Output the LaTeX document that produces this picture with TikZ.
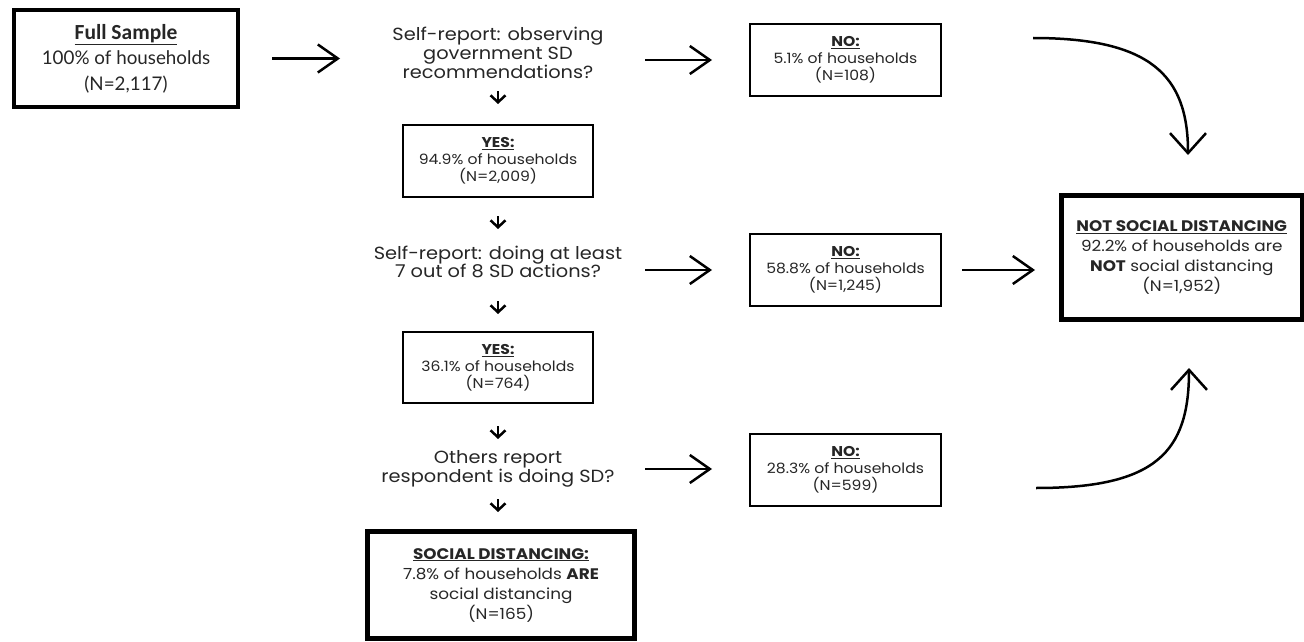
\documentclass[tikz,border=0pt]{standalone}
\usepackage{fontspec}
\setmainfont{Poppins}[FakeStretch=1.1]
\newfontfamily\fsfont{Lato}
\newfontfamily\fstitle{Carlito}
\usetikzlibrary{arrows.meta}
\begin{document}
\begin{tikzpicture}[x=1pt,y=-1pt,
  txt/.style={text=black!85, align=center, inner sep=0pt},
  qtext/.style={txt, font=\fontsize{17.6}{18.7}\selectfont},
  thinbox/.style={txt, draw=black, line width=2pt, minimum width=190pt, minimum height=72pt, font=\fontsize{14.2}{17}\selectfont},
  thickbox/.style={txt, draw=black, line width=5pt, font=\fontsize{15.3}{20}\selectfont},
  harrow/.style={line width=2.5pt, -{Straight Barb[length=20pt,width=28pt]}},
  carrow/.style={line width=2.5pt, -{Straight Barb[length=20pt,width=36pt]}},
  darrow/.style={line width=2.5pt, -{Straight Barb[length=7pt,width=15pt]}}
]
\useasboundingbox (0,0) rectangle (1304,642);

% nodes
\node[txt, draw=black, line width=4pt, minimum width=224pt, minimum height=97pt,
  font=\fsfont\fontsize{18.8}{25.5}\selectfont] (fs) at (126,58.5)
  {{\fstitle\bfseries\fontsize{21.5}{25.5}\selectfont\underline{Full Sample}}\\100\% of households\\(N=2,117)};

\node[qtext] (q1) at (498,53) {Self-report: observing\\government SD\\recommendations?};
\node[thinbox] (yes1) at (498,161) {\textbf{\underline{YES:}}\\94.9\% of households\\(N=2,009)};
\node[qtext] (q2) at (498,262) {Self-report: doing at least\\7 out of 8 SD actions?};
\node[thinbox, minimum height=71pt] (yes2) at (498,367.5) {\textbf{\underline{YES:}}\\36.1\% of households\\(N=764)};
\node[qtext] (q3) at (498,469) {Others report\\respondent is doing SD?};
\node[thickbox, minimum width=267pt, minimum height=107pt] (sd) at (501,585)
  {\textbf{\underline{SOCIAL DISTANCING:}}\\7.8\% of households \textbf{ARE}\\social distancing\\(N=165)};

\node[thinbox, minimum width=191pt] (no1) at (845.5,60) {\textbf{\underline{NO:}}\\5.1\% of households\\(N=108)};
\node[thinbox, minimum width=191pt] (no2) at (845.5,270) {\textbf{\underline{NO:}}\\58.8\% of households\\(N=1,245)};
\node[thinbox, minimum width=191pt] (no3) at (845.5,470) {\textbf{\underline{NO:}}\\28.3\% of households\\(N=599)};

\node[thickbox, minimum width=240.5pt, minimum height=124pt] (notsd) at (1181.75,257.5)
  {\textbf{\underline{NOT SOCIAL DISTANCING}}\\92.2\% of households are\\\textbf{NOT} social distancing\\(N=1,952)};

% horizontal arrows
\draw[harrow, shorten <=146pt, shorten >=158pt] (fs.center) -- (fs.center -| q1.center);
\draw[harrow, shorten <=147pt, shorten >=133.5pt] (q1.center |- no1.center) -- (no1.center);
\draw[harrow, shorten <=147pt, shorten >=133.5pt] (q2.center |- no2.center) -- (no2.center);
\draw[harrow, shorten <=147pt, shorten >=133.5pt] (q3.center) -- (q3.center -| no3.center);
\draw[harrow, shorten <=116.5pt, shorten >=146.75pt] (no2.center) -- (no2.center -| notsd.center);

% down arrows
\draw[darrow, shorten <=38pt, shorten >=57pt] (q1.center) -- (yes1.center);
\draw[darrow, shorten <=55pt, shorten >=33pt] (yes1.center) -- (q2.center);
\draw[darrow, shorten <=39pt, shorten >=53.5pt] (q2.center) -- (yes2.center);
\draw[darrow, shorten <=58.5pt, shorten >=30pt] (yes2.center) -- (q3.center);
\draw[darrow, shorten <=30pt, shorten >=73pt] (q3.center) -- (q3.center |- sd.center);

% curved arrows
\draw[carrow, shorten >=38pt] ([shift={(91,-22)}]no1.east)
  .. controls +(117,0) and +(0,-118) .. ([xshift=6.25pt]notsd.north);
\draw[carrow, shorten >=46pt] ([shift={(94,18)}]no3.east)
  .. controls +(120,0) and +(0,130) .. ([xshift=7.25pt]notsd.south);
\end{tikzpicture}
\end{document}
